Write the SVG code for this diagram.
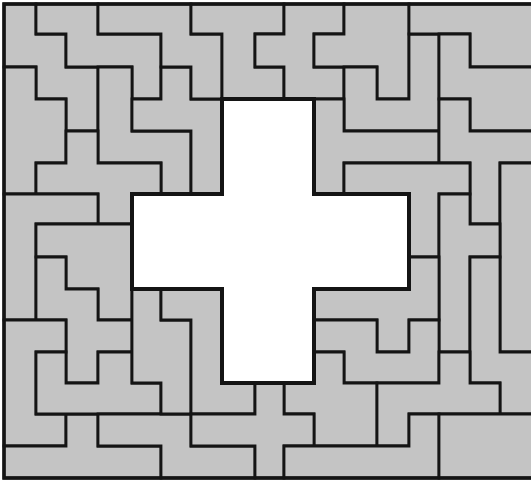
<svg xmlns="http://www.w3.org/2000/svg" width="531" height="482" viewBox="0 0 531 482">
<style>
.p{fill:#c4c4c4;stroke:#141414;stroke-width:2.8;stroke-linejoin:miter}
.x{fill:#ffffff;stroke:#141414;stroke-width:4;stroke-linejoin:miter}
.b{fill:none;stroke:#141414;stroke-width:3.5}
</style>
<rect width="531" height="482" fill="#ffffff"/>
<g id="pieces">
<polygon id="A" class="p" points="4,4 36,4 36,34 66,34 66,67 98,67 98,131 66,131 66,99 36,99 36,67 4,67"/>
<polygon id="B" class="p" points="36,4 98,4 98,34 161,34 161,99 132,99 132,67 66,67 66,34 36,34"/>
<polygon id="C" class="p" points="4,67 36,67 36,99 66,99 66,163 36,163 36,194 4,194"/>
<polygon id="D" class="p" points="98,67 132,67 132,131 191,131 191,194 161,194 161,163 98,163"/>
<polygon id="E" class="p" points="161,67 191,67 191,99 222,99 222,194 191,194 191,131 132,131 132,99 161,99"/>
<polygon id="F" class="p" points="98,4 191,4 191,34 222,34 222,99 191,99 191,67 161,67 161,34 98,34"/>
<polygon id="G" class="p" points="66,131 98,131 98,163 161,163 161,194 132,194 132,224 98,224 98,194 36,194 36,163 66,163"/>
<polygon id="H" class="p" points="191,4 284,4 284,34 255,34 255,67 284,67 284,99 222,99 222,34 191,34"/>
<polygon id="I" class="p" points="284,4 344,4 344,34 314,34 314,67 344,67 344,99 284,99 284,67 255,67 255,34 284,34"/>
<polygon id="J" class="p" points="344,4 409,4 409,99 377,99 377,67 314,67 314,34 344,34"/>
<polygon id="K" class="p" points="409,34 439,34 439,131 344,131 344,67 377,67 377,99 409,99"/>
<polygon id="L" class="p" points="314,99 344,99 344,131 439,131 439,163 344,163 344,194 314,194"/>
<polygon id="M" class="p" points="409,4 534,4 534,67 470,67 470,34 409,34"/>
<polygon id="N" class="p" points="439,34 470,34 470,67 534,67 534,131 470,131 470,99 439,99"/>
<polygon id="O" class="p" points="439,99 470,99 470,131 534,131 534,163 500,163 500,224 470,224 470,163 439,163"/>
<polygon id="P" class="p" points="500,163 534,163 534,352 500,352"/>
<polygon id="Q" class="p" points="344,163 470,163 470,194 439,194 439,257 409,257 409,194 344,194"/>
<polygon id="R" class="p" points="439,194 470,194 470,224 500,224 500,257 470,257 470,352 439,352"/>
<polygon id="S" class="p" points="470,257 500,257 500,352 534,352 534,414 500,414 500,383 470,383"/>
<polygon id="T" class="p" points="409,257 439,257 439,320 409,320 409,352 377,352 377,320 314,320 314,289 409,289"/>
<polygon id="U" class="p" points="314,320 377,320 377,352 409,352 409,320 439,320 439,383 344,383 344,352 314,352"/>
<polygon id="V" class="p" points="4,194 98,194 98,224 36,224 36,320 4,320"/>
<polygon id="W" class="p" points="36,224 132,224 132,320 98,320 98,289 66,289 66,257 36,257"/>
<polygon id="X" class="p" points="36,257 66,257 66,289 98,289 98,320 132,320 132,352 98,352 98,383 66,383 66,320 36,320"/>
<polygon id="Y" class="p" points="4,320 66,320 66,352 36,352 36,414 66,414 66,446 4,446"/>
<polygon id="Z" class="p" points="66,414 98,414 98,446 161,446 161,478 4,478 4,446 66,446"/>
<polygon id="AA" class="p" points="36,352 66,352 66,383 98,383 98,352 132,352 132,383 161,383 161,414 36,414"/>
<polygon id="BB" class="p" points="98,414 191,414 191,446 255,446 255,478 161,478 161,446 98,446"/>
<polygon id="CC" class="p" points="132,289 161,289 161,320 191,320 191,414 161,414 161,383 132,383"/>
<polygon id="DD" class="p" points="161,289 222,289 222,383 255,383 255,414 191,414 191,320 161,320"/>
<polygon id="EE" class="p" points="314,352 344,352 344,383 377,383 377,446 314,446 314,414 284,414 284,383 314,383"/>
<polygon id="FF" class="p" points="439,352 470,352 470,383 500,383 500,414 409,414 409,446 377,446 377,383 439,383"/>
<polygon id="GG" class="p" points="255,383 284,383 284,414 314,414 314,446 284,446 284,478 255,478 255,446 191,446 191,414 255,414"/>
<polygon id="HH" class="p" points="409,414 439,414 439,478 284,478 284,446 409,446"/>
<polygon id="II" class="p" points="439,414 534,414 534,478 439,478"/>
</g>
<polygon id="cross" class="x" points="222,99 314,99 314,194 409,194 409,289 314,289 314,383 222,383 222,289 132,289 132,194 222,194"/>
<path id="border" class="b" d="M534,4 H4 V478 H534"/>
</svg>
